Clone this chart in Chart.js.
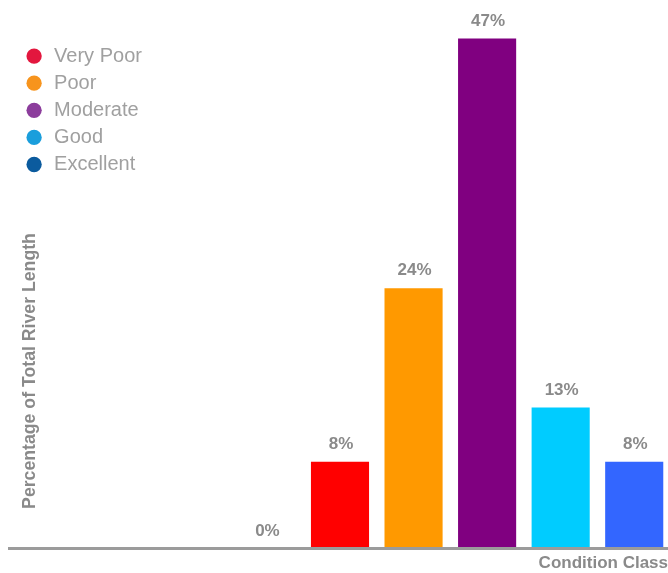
<!DOCTYPE html>
<html>
<head>
<meta charset="utf-8">
<script src="https://cdn.jsdelivr.net/npm/chart.js@4/dist/chart.umd.min.js"></script>
<style>
  html, body { margin: 0; padding: 0; overflow: hidden; background: #ffffff; }
  #wrap { position: relative; width: 671px; height: 573px; }
</style>
</head>
<body>
<div id="wrap"><canvas id="c"></canvas></div>
<script>
// ---- data ----
const categories = ['', '', '', 'None', 'Very Poor', 'Poor', 'Moderate', 'Good', 'Excellent'];
const percentValues = [null, null, null, 0, 8, 24, 47, 13, 8];
const barColors = ['#ffffff', '#ffffff', '#ffffff', '#cccccc', '#ff0000', '#ff9900', '#800080', '#00ccff', '#3366ff'];
const legendLabels = ['Very Poor', 'Poor', 'Moderate', 'Good', 'Excellent'];
const legendColors = ['#e3173e', '#f7941d', '#8c3d9c', '#1a9edc', '#0b5b9e'];
const xAxisTitle = 'Condition Class';
const yAxisTitle = 'Percentage of Total River Length';
const yMin = 0, yMax = 50;

const labelFont = 'bold 17px "Liberation Sans", Arial, sans-serif';
const textGrey = '#8a8a8a';

// value labels above bars
const valueLabels = {
  id: 'valueLabels',
  afterDatasetsDraw(chart) {
    const ctx = chart.ctx;
    const meta = chart.getDatasetMeta(0);
    ctx.save();
    ctx.font = labelFont;
    ctx.fillStyle = textGrey;
    ctx.textAlign = 'center';
    ctx.textBaseline = 'alphabetic';
    meta.data.forEach((el, i) => {
      const v = percentValues[i];
      if (v === null || v === undefined) return;
      ctx.fillText(v + '%', el.x + 1, el.y - 13);
    });
    ctx.restore();
  }
};

// axis titles
const axisTitles = {
  id: 'axisTitles',
  afterDraw(chart) {
    const ctx = chart.ctx;
    const a = chart.chartArea;
    ctx.save();
    ctx.fillStyle = textGrey;
    ctx.font = labelFont;
    ctx.textAlign = 'right';
    ctx.textBaseline = 'middle';
    ctx.fillText(xAxisTitle, a.right - 3, a.bottom + 15);
    ctx.translate(a.left + 21.5, a.top + 365);
    ctx.rotate(-Math.PI / 2);
    ctx.textAlign = 'center';
    ctx.font = 'bold 17.7px "Liberation Sans", Arial, sans-serif';
    ctx.fillText(yAxisTitle, 0, 0);
    ctx.restore();
  }
};

// nudge the in-chart legend into place
const legendNudge = {
  id: 'legendNudge',
  afterLayout(chart) {
    const lg = chart.legend;
    if (!lg) return;
    const dx = 8, dy = 39;
    lg.left += dx; lg.right += dx;
    lg.top += dy; lg.bottom += dy;
  }
};

new Chart(document.getElementById('c'), {
  type: 'bar',
  data: {
    labels: categories,
    datasets: [{
      data: percentValues,
      backgroundColor: barColors,
      borderWidth: 0,
      barPercentage: 0.79,
      categoryPercentage: 1.0
    }]
  },
  options: {
    responsive: true,
    maintainAspectRatio: false,
    animation: false,
    layout: { padding: { top: 6, left: 9, right: 0, bottom: 24.4 } },
    scales: {
      x: {
        display: true,
        grid: { display: false, drawTicks: false },
        ticks: { display: false },
        border: { display: true, color: '#9b9b9b', width: 3, z: 1 },
        title: { display: false }
      },
      y: {
        display: false,
        min: yMin,
        max: yMax
      }
    },
    plugins: {
      tooltip: { enabled: false },
      legend: {
        display: true,
        position: 'chartArea',
        align: 'start',
        labels: {
          usePointStyle: true,
          boxWidth: 20,
          boxHeight: 10.8,
          padding: 7.1,
          color: '#a0a0a0',
          font: { family: '"Liberation Sans", Arial, sans-serif', size: 20, weight: 'normal' },
          generateLabels() {
            return legendLabels.map((t, i) => ({
              text: t,
              fillStyle: legendColors[i],
              strokeStyle: legendColors[i],
              lineWidth: 0,
              pointStyle: 'circle',
              fontColor: '#a0a0a0',
              hidden: false,
              datasetIndex: 0,
              index: i
            }));
          }
        }
      }
    }
  },
  plugins: [valueLabels, axisTitles, legendNudge]
});
</script>
</body>
</html>
